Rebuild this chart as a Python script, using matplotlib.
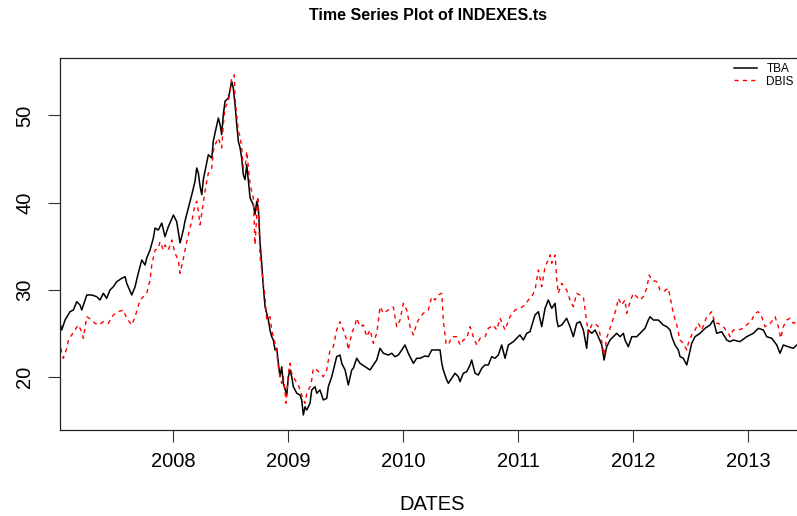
import matplotlib
matplotlib.use("Agg")
import matplotlib.pyplot as plt

plt.rcParams['font.family'] = ['Liberation Sans', 'DejaVu Sans']

# values (decimal year, index level)
tba_dates = [
    2007.017, 2007.032, 2007.061, 2007.104, 2007.133, 2007.163, 2007.191, 2007.206,
    2007.250, 2007.293, 2007.337, 2007.365, 2007.394, 2007.423, 2007.452, 2007.481,
    2007.510, 2007.554, 2007.583, 2007.597, 2007.641, 2007.670, 2007.698, 2007.728,
    2007.757, 2007.771, 2007.800, 2007.829, 2007.843, 2007.872, 2007.902, 2007.930,
    2007.959, 2008.003, 2008.032, 2008.061, 2008.090, 2008.104, 2008.133, 2008.163,
    2008.191, 2008.206, 2008.220, 2008.235, 2008.250, 2008.263, 2008.278, 2008.307,
    2008.337, 2008.350, 2008.365, 2008.394, 2008.409, 2008.423, 2008.437, 2008.452,
    2008.481, 2008.496, 2008.510, 2008.524, 2008.539, 2008.554, 2008.568, 2008.583,
    2008.597, 2008.611, 2008.626, 2008.641, 2008.670, 2008.698, 2008.713, 2008.728,
    2008.742, 2008.757, 2008.771, 2008.785, 2008.800, 2008.829, 2008.843, 2008.858,
    2008.872, 2008.887, 2008.902, 2008.916, 2008.930, 2008.945, 2008.959, 2008.989,
    2009.003, 2009.017, 2009.032, 2009.046, 2009.076, 2009.104, 2009.119, 2009.133,
    2009.148, 2009.163, 2009.191, 2009.206, 2009.235, 2009.250, 2009.278, 2009.307,
    2009.337, 2009.350, 2009.380, 2009.409, 2009.423, 2009.452, 2009.467, 2009.496,
    2009.524, 2009.554, 2009.568, 2009.597, 2009.626, 2009.670, 2009.713, 2009.742,
    2009.771, 2009.800, 2009.829, 2009.872, 2009.902, 2009.930, 2009.959, 2009.989,
    2010.017, 2010.046, 2010.076, 2010.090, 2010.119, 2010.148, 2010.191, 2010.220,
    2010.250, 2010.293, 2010.322, 2010.337, 2010.350, 2010.380, 2010.394, 2010.423,
    2010.452, 2010.481, 2010.496, 2010.524, 2010.554, 2010.583, 2010.597, 2010.626,
    2010.655, 2010.684, 2010.713, 2010.742, 2010.771, 2010.800, 2010.829, 2010.858,
    2010.887, 2010.916, 2010.959, 2010.989, 2011.017, 2011.046, 2011.076, 2011.104,
    2011.148, 2011.177, 2011.206, 2011.235, 2011.263, 2011.293, 2011.322, 2011.337,
    2011.350, 2011.380, 2011.423, 2011.452, 2011.481, 2011.510, 2011.539, 2011.568,
    2011.597, 2011.611, 2011.641, 2011.670, 2011.698, 2011.728, 2011.748, 2011.771,
    2011.800, 2011.829, 2011.858, 2011.887, 2011.916, 2011.930, 2011.959, 2011.989,
    2012.032, 2012.061, 2012.104, 2012.133, 2012.148, 2012.177, 2012.220, 2012.263,
    2012.293, 2012.322, 2012.337, 2012.365, 2012.394, 2012.409, 2012.437, 2012.467,
    2012.481, 2012.510, 2012.539, 2012.583, 2012.626, 2012.670, 2012.698, 2012.728,
    2012.771, 2012.815, 2012.843, 2012.872, 2012.930, 2012.989, 2013.046, 2013.090,
    2013.133, 2013.163, 2013.206, 2013.250, 2013.278, 2013.307, 2013.350, 2013.394,
    2013.423, 2013.460,
]
tba_values = [
    26.22, 25.42, 26.56, 27.51, 27.71, 28.66, 28.28, 27.71,
    29.43, 29.43, 29.23, 28.86, 29.62, 29.05, 30.00, 30.38,
    30.95, 31.34, 31.52, 30.77, 29.43, 30.38, 31.95, 33.44,
    32.86, 33.67, 34.58, 35.96, 37.10, 36.87, 37.67, 36.11,
    37.25, 38.59, 37.82, 35.39, 36.91, 37.90, 39.39, 40.92,
    42.45, 43.98, 43.40, 41.88, 40.92, 42.64, 43.60, 45.50,
    45.12, 47.03, 47.98, 49.70, 48.94, 47.79, 50.08, 51.62,
    51.99, 52.95, 53.91, 53.14, 51.23, 48.94, 47.03, 46.27,
    45.12, 43.21, 42.64, 44.35, 40.54, 39.77, 38.63, 40.16,
    39.39, 35.35, 33.06, 30.38, 28.09, 26.56, 25.42, 24.65,
    24.27, 23.13, 23.32, 21.60, 20.07, 21.21, 19.31, 17.97,
    20.07, 20.84, 20.07, 18.92, 18.17, 17.97, 17.40, 15.68,
    16.63, 16.25, 17.02, 18.55, 18.92, 18.17, 18.55, 17.40,
    17.59, 18.92, 20.07, 21.60, 22.36, 22.55, 21.60, 20.84,
    19.12, 20.84, 21.03, 22.18, 21.60, 21.21, 20.84, 21.41,
    21.98, 23.32, 22.75, 22.55, 22.75, 22.36, 22.55, 23.13,
    23.70, 22.75, 21.98, 21.60, 22.18, 22.18, 22.44, 22.36,
    23.13, 23.13, 23.13, 21.60, 20.84, 19.69, 19.31, 19.88,
    20.46, 20.07, 19.50, 20.46, 20.64, 21.41, 21.98, 20.46,
    20.26, 21.03, 21.41, 21.41, 22.36, 22.18, 22.55, 23.70,
    22.18, 23.70, 24.08, 24.47, 24.85, 24.27, 25.04, 25.22,
    27.14, 27.51, 25.80, 27.90, 28.86, 27.90, 28.47, 26.56,
    25.80, 25.99, 26.76, 25.80, 24.65, 26.18, 26.37, 25.42,
    23.32, 25.42, 25.04, 25.42, 24.65, 23.70, 21.98, 23.50,
    24.27, 24.65, 25.04, 24.65, 25.04, 24.27, 23.50, 24.65,
    24.65, 25.04, 25.61, 26.56, 26.94, 26.56, 26.56, 25.99,
    25.80, 25.42, 24.65, 23.70, 23.13, 22.36, 22.18, 21.41,
    22.18, 23.89, 24.65, 25.04, 25.61, 25.99, 26.56, 25.04,
    25.22, 24.27, 24.08, 24.27, 24.08, 24.65, 25.04, 25.61,
    25.42, 24.65, 24.47, 23.70, 22.75, 23.70, 23.50, 23.32,
    23.70, 23.60,
]

dbis_dates = [
    2007.017, 2007.032, 2007.046, 2007.076, 2007.090, 2007.119, 2007.148, 2007.176,
    2007.206, 2007.220, 2007.250, 2007.293, 2007.322, 2007.350, 2007.394, 2007.437,
    2007.481, 2007.524, 2007.568, 2007.597, 2007.641, 2007.670, 2007.713, 2007.742,
    2007.771, 2007.800, 2007.815, 2007.843, 2007.872, 2007.887, 2007.916, 2007.930,
    2007.959, 2007.989, 2008.017, 2008.046, 2008.061, 2008.090, 2008.113, 2008.133,
    2008.163, 2008.191, 2008.206, 2008.220, 2008.235, 2008.250, 2008.278, 2008.307,
    2008.337, 2008.350, 2008.365, 2008.394, 2008.423, 2008.437, 2008.452, 2008.481,
    2008.496, 2008.510, 2008.533, 2008.539, 2008.554, 2008.568, 2008.583, 2008.597,
    2008.611, 2008.626, 2008.641, 2008.655, 2008.670, 2008.698, 2008.713, 2008.737,
    2008.757, 2008.785, 2008.800, 2008.815, 2008.843, 2008.858, 2008.887, 2008.902,
    2008.916, 2008.930, 2008.945, 2008.959, 2008.983, 2009.003, 2009.017, 2009.032,
    2009.061, 2009.090, 2009.104, 2009.133, 2009.148, 2009.163, 2009.191, 2009.206,
    2009.220, 2009.250, 2009.278, 2009.307, 2009.337, 2009.365, 2009.394, 2009.423,
    2009.452, 2009.481, 2009.510, 2009.524, 2009.554, 2009.583, 2009.597, 2009.626,
    2009.655, 2009.684, 2009.713, 2009.742, 2009.771, 2009.785, 2009.800, 2009.829,
    2009.872, 2009.916, 2009.945, 2009.974, 2010.003, 2010.032, 2010.061, 2010.090,
    2010.119, 2010.148, 2010.191, 2010.220, 2010.250, 2010.278, 2010.307, 2010.337,
    2010.350, 2010.374, 2010.394, 2010.423, 2010.467, 2010.496, 2010.524, 2010.554,
    2010.583, 2010.611, 2010.641, 2010.670, 2010.713, 2010.742, 2010.785, 2010.815,
    2010.843, 2010.887, 2010.930, 2010.974, 2011.017, 2011.061, 2011.090, 2011.119,
    2011.148, 2011.177, 2011.206, 2011.235, 2011.263, 2011.278, 2011.293, 2011.322,
    2011.337, 2011.350, 2011.380, 2011.423, 2011.452, 2011.481, 2011.510, 2011.539,
    2011.568, 2011.597, 2011.611, 2011.641, 2011.670, 2011.698, 2011.728, 2011.748,
    2011.771, 2011.800, 2011.829, 2011.858, 2011.872, 2011.902, 2011.930, 2011.945,
    2011.974, 2012.003, 2012.032, 2012.061, 2012.090, 2012.119, 2012.141, 2012.163,
    2012.206, 2012.235, 2012.263, 2012.307, 2012.322, 2012.350, 2012.380, 2012.409,
    2012.437, 2012.467, 2012.481, 2012.510, 2012.539, 2012.568, 2012.597, 2012.641,
    2012.684, 2012.713, 2012.742, 2012.785, 2012.829, 2012.843, 2012.872, 2012.916,
    2012.959, 2012.989, 2013.032, 2013.061, 2013.090, 2013.119, 2013.148, 2013.177,
    2013.206, 2013.235, 2013.263, 2013.285, 2013.307, 2013.337, 2013.365, 2013.394,
    2013.423, 2013.460,
]
dbis_values = [
    24.27, 22.75, 22.18, 23.32, 24.27, 24.85, 25.42, 25.99,
    25.22, 24.47, 26.94, 26.56, 26.18, 25.99, 26.37, 26.18,
    27.14, 27.51, 27.71, 26.76, 25.99, 26.94, 28.86, 29.23,
    29.62, 31.15, 32.86, 34.58, 34.78, 35.53, 34.58, 35.15,
    34.58, 35.73, 34.20, 33.44, 31.91, 33.63, 35.15, 36.33,
    37.87, 39.77, 40.16, 39.02, 37.48, 38.82, 41.31, 43.40,
    43.98, 45.89, 46.64, 47.41, 46.27, 48.94, 50.85, 51.62,
    52.76, 54.29, 54.66, 51.99, 50.08, 48.18, 47.61, 46.27,
    43.98, 43.98, 45.89, 43.98, 42.06, 40.54, 35.19, 40.73,
    33.81, 30.77, 29.23, 26.56, 26.94, 25.42, 23.89, 22.75,
    21.21, 20.07, 19.31, 20.07, 17.02, 20.46, 21.60, 20.46,
    19.69, 19.12, 18.55, 17.40, 17.02, 18.17, 18.92, 19.69,
    21.03, 20.84, 20.46, 20.07, 20.84, 23.13, 23.50, 25.42,
    26.37, 25.42, 24.27, 23.13, 25.04, 25.99, 26.76, 25.80,
    25.99, 24.65, 25.42, 23.89, 25.04, 26.37, 28.09, 27.33,
    27.71, 28.05, 25.80, 26.56, 28.47, 27.71, 25.80, 24.85,
    26.18, 26.94, 27.51, 27.71, 29.23, 28.86, 29.43, 29.62,
    26.56, 23.89, 23.70, 24.65, 24.65, 23.70, 24.27, 24.47,
    25.80, 24.65, 23.70, 24.47, 24.65, 25.61, 25.99, 25.42,
    26.76, 25.42, 26.94, 27.71, 27.90, 28.28, 28.86, 29.23,
    30.00, 32.29, 30.38, 32.67, 33.44, 34.01, 33.06, 34.01,
    31.15, 29.62, 30.77, 30.00, 28.86, 28.09, 29.62, 29.43,
    29.23, 26.37, 25.04, 25.99, 26.18, 25.80, 24.08, 22.55,
    24.50, 25.65, 26.76, 28.09, 29.05, 28.28, 28.86, 27.33,
    28.66, 29.62, 29.23, 28.86, 29.23, 30.20, 31.72, 31.15,
    30.95, 30.00, 29.81, 30.20, 29.23, 27.33, 25.99, 24.27,
    23.89, 23.13, 23.89, 24.85, 25.42, 26.18, 25.42, 26.94,
    27.51, 26.18, 26.18, 25.80, 25.04, 24.65, 25.42, 25.42,
    25.61, 25.99, 26.56, 27.33, 27.51, 26.94, 25.80, 25.99,
    26.37, 26.94, 25.80, 24.47, 25.80, 26.56, 26.76, 26.18,
    26.37, 26.20,
]

year_ticks = [2008, 2009, 2010, 2011, 2012, 2013]
value_ticks = [20, 30, 40, 50]

W, H = 797, 516
fig = plt.figure(figsize=(W / 100, H / 100), dpi=100)
# plot box runs a little past the right edge of the picture, as in the reference
ax = fig.add_axes([60 / W, 1 - 430 / H, 740 / W, 372 / H])

ax.plot(tba_dates, tba_values, color='black', lw=1.1, label='TBA')
ax.plot(dbis_dates, dbis_values, color='red', lw=1.0, linestyle=(0, (3, 3)), label='DBIS')

ax.set_xlim(2007.017, 2013.452)
ax.set_ylim(13.96, 56.58)
ax.set_xticks(year_ticks)
ax.set_yticks(value_ticks)
ax.tick_params(axis='both', length=8.5, width=0.8, labelsize=14.5, color='#333333')
ax.tick_params(axis='x', pad=7)
ax.tick_params(axis='y', pad=10)
plt.setp(ax.get_yticklabels(), rotation=90, va='center')
for s in ax.spines.values():
    s.set_linewidth(0.9)
    s.set_color('#222222')

ax.set_xlabel('DATES', fontsize=14.5)
ax.xaxis.label.set_va('center')
ax.xaxis.set_label_coords((432 - 60) / 740, (430 - 505) / 372)

fig.text(428 / W, 1 - 15 / H, 'Time Series Plot of INDEXES.ts',
         ha='center', va='center', fontweight='bold', fontsize=11.5)

ax.legend(loc='upper left', bbox_to_anchor=(734 / W, 1 - 63 / H),
          bbox_transform=fig.transFigure, frameon=False, fontsize=8.5,
          handlelength=1.95, handletextpad=0.8, labelspacing=0.05,
          borderpad=0, borderaxespad=0)

fig.savefig('out.png', dpi=100)
